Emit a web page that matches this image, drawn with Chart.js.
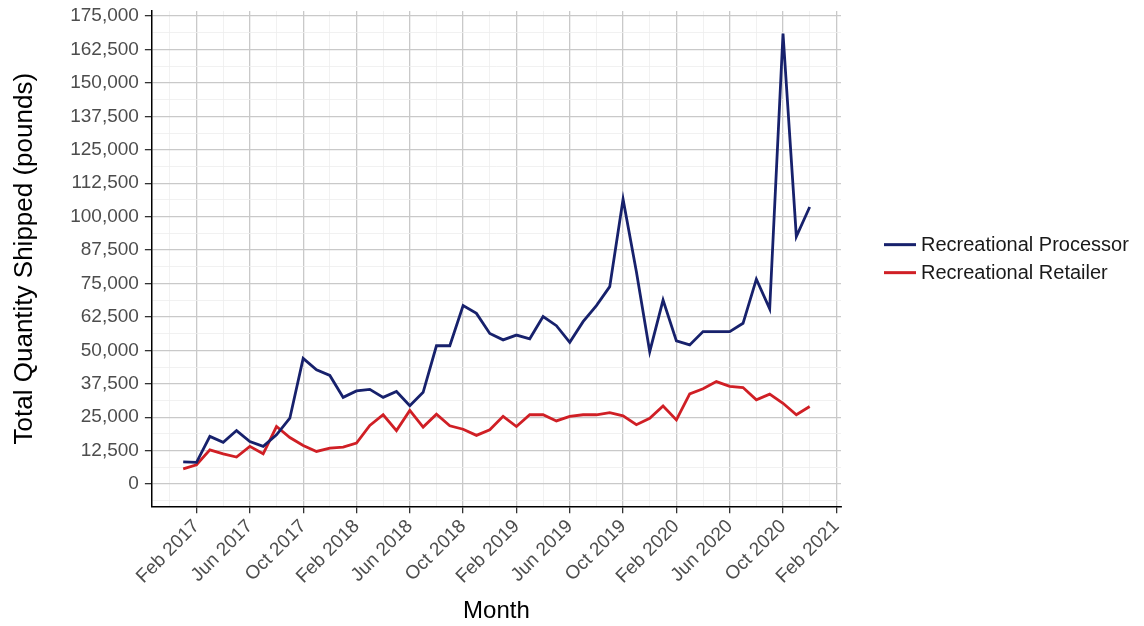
<!DOCTYPE html>
<html>
<head>
<meta charset="utf-8">
<script src="https://cdn.jsdelivr.net/npm/chart.js@4.4.1/dist/chart.umd.min.js"></script>
<style>
    body { margin: 0; background: #fff; }
</style>
</head>
<body>
<canvas id="GraficoEnvios" width="1144" height="626"></canvas>
<script>
/*Dados do gráfico*/
var meses = [
    '2017-01', '2017-02', '2017-03', '2017-04', '2017-05', '2017-06', '2017-07', '2017-08', '2017-09', '2017-10', '2017-11', '2017-12',
    '2018-01', '2018-02', '2018-03', '2018-04', '2018-05', '2018-06', '2018-07', '2018-08', '2018-09', '2018-10', '2018-11', '2018-12',
    '2019-01', '2019-02', '2019-03', '2019-04', '2019-05', '2019-06', '2019-07', '2019-08', '2019-09', '2019-10', '2019-11', '2019-12',
    '2020-01', '2020-02', '2020-03', '2020-04', '2020-05', '2020-06', '2020-07', '2020-08', '2020-09', '2020-10', '2020-11', '2020-12'
];

var processor = [
    8300, 8100, 17800, 15600, 20000, 15900, 14100, 18400, 24600, 47000, 42700, 40600,
    32400, 34800, 35400, 32400, 34600, 29300, 34300, 51700, 51700, 66700, 63800, 56300,
    53900, 55700, 54300, 62600, 59200, 53000, 60700, 66700, 73800, 106500, 79400, 49500,
    68800, 53500, 52000, 57000, 57000, 57000, 60100, 76600, 65500, 168450, 92500, 103600
];

var retailer = [
    5700, 7200, 12800, 11300, 10100, 14100, 11300, 21500, 17400, 14400, 12200, 13400,
    13800, 15300, 21900, 25900, 20000, 27500, 21300, 26100, 21800, 20500, 18200, 20300,
    25300, 21500, 25900, 25900, 23600, 25300, 25900, 25900, 26700, 25500, 22200, 24600,
    29200, 24000, 33700, 35600, 38300, 36500, 36100, 31500, 33600, 30200, 25900, 29000
];

var rotulosX = ['Feb 2017', 'Jun 2017', 'Oct 2017', 'Feb 2018', 'Jun 2018', 'Oct 2018', 'Feb 2019',
    'Jun 2019', 'Oct 2019', 'Feb 2020', 'Jun 2020', 'Oct 2020', 'Feb 2021'];

var rotulosY = [0, 12500, 25000, 37500, 50000, 62500, 75000, 87500, 100000, 112500, 125000, 137500, 150000, 162500, 175000];

var nomesMes = ['Jan', 'Feb', 'Mar', 'Apr', 'May', 'Jun', 'Jul', 'Aug', 'Sep', 'Oct', 'Nov', 'Dec'];

/*Funções auxiliares*/
function IndiceMes(texto) {
    var partes = texto.split('-');
    return (parseInt(partes[0]) - 2017) * 12 + parseInt(partes[1]) - 1;
}

function TextoMes(indice) {
    return nomesMes[((indice % 12) + 12) % 12] + ' ' + (2017 + Math.floor(indice / 12));
}

function PegarPontos(valores) {
    return meses.map(function (m, i) {
        return { x: IndiceMes(m), y: valores[i] };
    });
}

var fonte = "'Liberation Sans', Arial, sans-serif";

/*Legenda desenhada à direita, centrada no painel*/
var legendaDireita = {
    id: 'legendaDireita',
    afterDraw: function (chart) {
        var ctx = chart.ctx;
        var area = chart.chartArea;
        var meio = (area.top + area.bottom) / 2;
        chart.data.datasets.forEach(function (ds, i) {
            var y = meio - 14 + i * 28;
            ctx.save();
            ctx.strokeStyle = ds.borderColor;
            ctx.lineWidth = 3;
            ctx.beginPath();
            ctx.moveTo(area.right + 43, y);
            ctx.lineTo(area.right + 75, y);
            ctx.stroke();
            ctx.fillStyle = '#1a1a1a';
            ctx.font = '20px ' + fonte;
            ctx.textBaseline = 'middle';
            ctx.fillText(ds.label, area.right + 80, y + 1);
            ctx.restore();
        });
    }
};

var ctx = document.getElementById('GraficoEnvios').getContext('2d');

var grafico = new Chart(ctx, {
    type: 'line',
    data: {
        datasets: [{
            label: 'Recreational Processor',
            data: PegarPontos(processor),
            borderColor: '#17216c',
            borderWidth: 2.8,
            pointRadius: 0,
            tension: 0
        }, {
            label: 'Recreational Retailer',
            data: PegarPontos(retailer),
            borderColor: '#d01f25',
            borderWidth: 2.8,
            pointRadius: 0,
            tension: 0
        }]
    },
    options: {
        responsive: false,
        animation: false,
        layout: {
            padding: { top: 11, right: 303, bottom: 0, left: 0 }
        },
        plugins: {
            legend: { display: false },
            tooltip: { enabled: false }
        },
        scales: {
            x: {
                type: 'linear',
                min: -2.35,
                max: 49.35,
                afterBuildTicks: function (scale) {
                    var ticks = [];
                    for (var v = -1; v <= 49; v += 2) ticks.push({ value: v });
                    scale.ticks = ticks;
                },
                ticks: {
                    autoSkip: false,
                    minRotation: 45,
                    maxRotation: 45,
                    padding: 2,
                    color: '#4d4d4d',
                    font: { family: fonte, size: 19 },
                    callback: function (v) {
                        var t = TextoMes(v);
                        return rotulosX.indexOf(t) >= 0 ? t : '';
                    }
                },
                grid: {
                    color: function (c) {
                        return ((c.tick.value - 1) % 4 === 0) ? '#c9c9c9' : '#ededed';
                    },
                    lineWidth: function (c) {
                        return ((c.tick.value - 1) % 4 === 0) ? 1.3 : 0.8;
                    },
                    tickColor: function (c) {
                        return ((c.tick.value - 1) % 4 === 0) ? '#333' : 'rgba(0,0,0,0)';
                    },
                    tickLength: 7
                },
                border: { display: true, color: '#000', width: 1.5 },
                title: {
                    display: true,
                    text: 'Month',
                    color: '#000',
                    font: { family: fonte, size: 24 },
                    padding: { top: 7, bottom: 0 }
                }
            },
            y: {
                min: -8326,
                max: 176870,
                afterBuildTicks: function (scale) {
                    var ticks = [];
                    for (var v = -6250; v <= 175000; v += 6250) ticks.push({ value: v });
                    scale.ticks = ticks;
                },
                afterFit: function (scale) {
                    scale.paddingTop = 0;
                    scale.paddingBottom = 0;
                },
                ticks: {
                    autoSkip: false,
                    padding: 6,
                    color: '#4d4d4d',
                    font: { family: fonte, size: 19, lineHeight: 1 },
                    callback: function (v) {
                        return rotulosY.indexOf(v) >= 0 ? v.toLocaleString('en-US') : '';
                    }
                },
                grid: {
                    color: function (c) {
                        return (c.tick.value % 12500 === 0) ? '#c9c9c9' : '#ededed';
                    },
                    lineWidth: function (c) {
                        return (c.tick.value % 12500 === 0) ? 1.3 : 0.8;
                    },
                    tickColor: function (c) {
                        return (c.tick.value % 12500 === 0) ? '#333' : 'rgba(0,0,0,0)';
                    },
                    tickLength: 7
                },
                border: { display: true, color: '#000', width: 1.5 },
                title: {
                    display: true,
                    text: 'Total Quantity Shipped (pounds)',
                    color: '#000',
                    font: { family: fonte, size: 26 },
                    padding: { top: 9, bottom: 24 }
                }
            }
        }
    },
    plugins: [legendaDireita]
});
</script>
</body>
</html>
